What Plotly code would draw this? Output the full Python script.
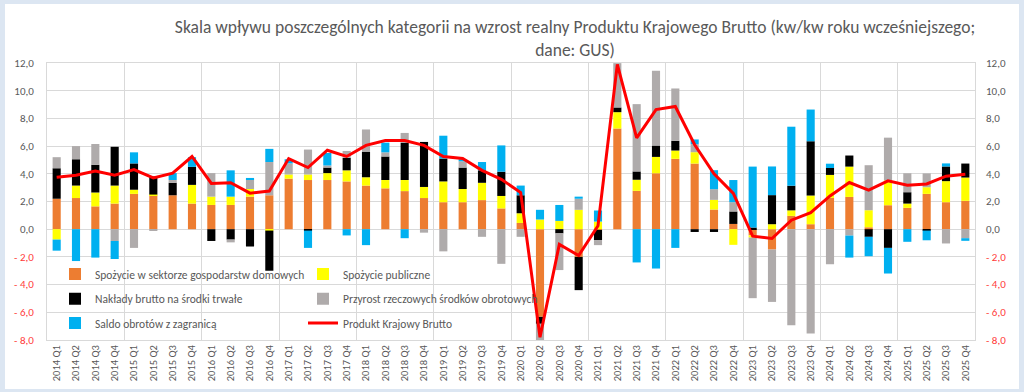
import plotly.graph_objects as go

years = list(range(2014, 2026))
quarters = [f"{y} Q{q}" for y in years for q in range(1, 5)]

household = [2.2, 2.25, 1.65, 1.85, 2.55, 2.45, 2.45, 1.85, 1.75, 1.75, 2.35, 2.45,
             3.65, 3.55, 3.55, 3.45, 3.15, 2.95, 2.75, 2.25, 1.95, 1.95, 2.1, 1.5,
             0.45, -6.33, 0.0, -2.0, -0.05, 7.27, 2.77, 4.04, 5.08, 4.74, 1.42, 0.38,
             -0.45, -1.47, 0.96, 0.36, 2.26, 2.33, 0.14, 1.73, 1.54, 2.55, 1.95, 2.05]
public = [-0.75, 0.9, 1.0, 1.3, 0.3, 0.05, 0.0, 1.35, 0.6, 0.6, 0.55, -0.1,
          0.3, 0.4, 0.5, 0.8, 0.6, 0.6, 0.8, 0.8, 1.5, 0.95, 1.25, 0.9,
          0.7, 0.7, 0.6, 1.4, 0.55, 1.18, 0.8, 1.18, 0.6, 0.82, 0.7, -1.13,
          -0.15, 0.36, 0.4, 2.07, 1.66, 2.19, 1.23, 1.8, 0.31, 0.48, 1.52, 1.68]
investment = [2.2, 1.9, 2.0, 2.8, 1.9, 1.3, 0.9, 1.3, -0.85, -0.75, -1.25, -2.9,
              0.0, -0.1, 0.4, 0.9, 1.85, 1.7, 2.7, 3.25, 1.65, 1.55, 0.9, 1.75,
              1.3, -0.5, -0.3, -2.4, -0.75, 0.34, 0.6, 0.82, 0.7, -0.2, -0.2, 0.9,
              0.12, 2.1, 1.78, 3.92, 0.5, 0.8, -0.55, -1.35, 0.82, -0.1, 1.06, 1.01]
inventories = [0.8, 0.95, 1.5, -0.85, -1.35, -0.1, 0.2, 0.0, 1.7, -0.2, 0.7, 2.4,
               0.8, 1.8, 0.15, 0.5, 1.6, 0.3, 0.7, -0.25, -1.6, 0.45, -0.55, -2.5,
               -0.55, -1.2, -2.65, 0.8, -0.35, 3.2, 4.86, 5.4, 3.78, 0.58, 0.77, 0.67,
               -4.38, -3.78, -6.93, -7.53, -2.53, -0.46, 3.25, 3.08, 1.37, 1.0, -1.03, -0.65]
net_exports = [-0.8, -2.3, -2.05, -1.3, 0.8, 0.0, 0.5, 0.7, 0.0, 1.9, 0.1, 0.95,
               0.3, -1.25, 0.9, -0.45, -1.15, 0.7, -0.65, 0.0, 1.65, 0.15, 0.6, 1.9,
               0.7, 0.7, 1.15, 0.15, 0.8, 0.0, -2.4, -2.84, -1.35, 0.34, 1.37, 1.6,
               4.4, 2.07, 4.26, 2.29, 0.31, -1.59, -1.4, -1.85, -0.91, -0.7, 0.22, -0.19]
gdp = [3.75, 3.9, 4.2, 3.9, 4.3, 3.7, 4.05, 5.25, 3.3, 3.35, 2.6, 2.75,
       5.1, 4.45, 5.7, 5.25, 6.05, 6.4, 6.4, 6.05, 5.25, 5.1, 4.25, 3.6,
       2.65, -7.8, -1.1, -1.9, 0.25, 11.9, 6.6, 8.64, 8.86, 6.1, 4.0, 2.58,
       -0.5, -0.67, 0.65, 1.2, 2.4, 3.37, 2.82, 3.49, 3.18, 3.27, 3.83, 3.97]

series_names = ["Spożycie w sektorze gospodarstw domowych", "Spożycie publiczne",
                "Nakłady brutto na środki trwałe", "Przyrost rzeczowych środków obrotowych",
                "Saldo obrotów z zagranicą"]
gdp_name = "Produkt Krajowy Brutto"
colors = ["#ED7D31", "#FFFF00", "#000000", "#AFABAB", "#00B0F0"]

y_ticks = [12, 10, 8, 6, 4, 2, 0, -2, -4, -6, -8]
y_tick_labels = ["12,0", "10,0", "8,0", "6,0", "4,0", "2,0", "0,0",
                 "- 2,0", "- 4,0", "- 6,0", "- 8,0"]

FONT = "Carlito, Lato, sans-serif"
GRAY = "#595959"
GRID = "#D9D9D9"
NEG = "#FF3B3B"

tick_text = [f'<span style="color:{NEG}">{t}</span>' if v < 0 else t
             for v, t in zip(y_ticks, y_tick_labels)]

pos = list(range(len(quarters)))
L, R, T, B = 47, 49, 63, 52
W, H = 1024, 392
pw, ph = W - L - R, H - T - B

fig = go.Figure()
legend_ids = ["legend", "legend2", "legend3", "legend4", "legend5"]
for name, vals, col, lg in zip(series_names,
                               [household, public, investment, inventories, net_exports],
                               colors, legend_ids):
    fig.add_trace(go.Bar(x=pos, y=vals, name=name, marker=dict(color=col, line=dict(width=0)),
                         legend=lg, hovertext=quarters))
fig.add_trace(go.Scatter(x=pos, y=gdp, name=gdp_name, mode="lines",
                         line=dict(color="#FF0000", width=3), yaxis="y2", legend="legend6",
                         hovertext=quarters))

def px_x(p):
    return (p - L) / pw

def px_y(p):
    return (H - B - p) / ph

col_x = [px_x(55), px_x(303)]
row_y = [px_y(274), px_y(298.7), px_y(323)]
legend_font = dict(family=FONT, size=11.5, color=GRAY)
legend_layouts = {}
for k, lg in enumerate(legend_ids + ["legend6"]):
    c = k % 2
    r = k // 2
    legend_layouts[lg] = dict(x=col_x[c], y=row_y[r], xanchor="left", yanchor="middle",
                              bgcolor="rgba(0,0,0,0)", font=legend_font, borderwidth=0)

fig.update_layout(
    width=W, height=H, autosize=False,
    margin=dict(l=L, r=R, t=T, b=B, autoexpand=False),
    paper_bgcolor="#DCE6F2",
    plot_bgcolor="white",
    barmode="relative",
    bargap=0.58,
    showlegend=True,
    title=dict(text="Skala wpływu poszczególnych kategorii na wzrost realny Produktu Krajowego Brutto (kw/kw roku wcześniejszego;<br>dane: GUS)",
               x=575 / W, xref="container", xanchor="center",
               y=1 - 33 / H, yref="container", yanchor="top", automargin=False,
               font=dict(family=FONT, size=17.5, color=GRAY)),
    xaxis=dict(range=[-0.5, len(quarters) - 0.5], tickmode="array", tickvals=pos, ticktext=quarters,
               tickangle=-90, showgrid=False, zeroline=False, ticks="", automargin=False,
               tickfont=dict(family=FONT, size=10.5, color=GRAY),
               showline=True, mirror=True, linecolor=GRID, linewidth=1,
               minor=dict(dtick=4, tick0=-0.5, showgrid=True, gridcolor=GRID, gridwidth=1, ticks="")),
    yaxis=dict(range=[-8, 12], tickmode="array", tickvals=y_ticks, ticktext=tick_text,
               showgrid=True, gridcolor=GRID, gridwidth=1, zeroline=False, ticks="",
               automargin=False,
               tickfont=dict(family=FONT, size=11, color=GRAY), ticklabelstandoff=10,
               showline=True, mirror=True, linecolor=GRID, linewidth=1),
    yaxis2=dict(range=[-8, 12], tickmode="array", tickvals=y_ticks, ticktext=tick_text,
                overlaying="y", side="right", showgrid=False, zeroline=False, ticks="",
                automargin=False,
                tickfont=dict(family=FONT, size=11, color=GRAY), ticklabelstandoff=10),
    shapes=[dict(type="rect", xref="paper", yref="paper", layer="below",
                 x0=px_x(5), x1=px_x(1019), y0=px_y(389), y1=px_y(4),
                 fillcolor="white", line=dict(width=0))],
    **legend_layouts,
)

fig.write_html("out.html", config={"displayModeBar": False},
               post_script="document.body.style.margin='0';document.body.style.overflow='hidden';")
